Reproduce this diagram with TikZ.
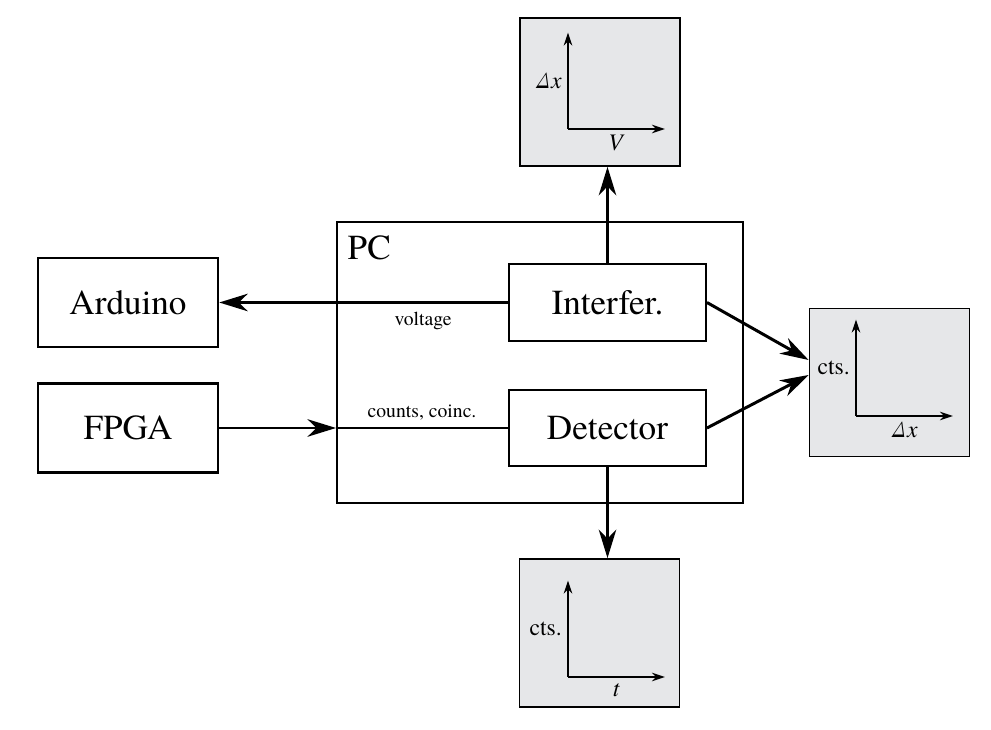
\documentclass[tikz,border=0pt]{standalone}
\usepackage{fontspec}
\setmainfont{texgyretermes}[Extension=.otf,
  UprightFont=*-regular, ItalicFont=*-italic,
  BoldFont=*-bold, BoldItalicFont=*-bolditalic]
\usetikzlibrary{arrows.meta}
\usetikzlibrary{positioning}
\definecolor{plotgray}{RGB}{230,231,233}
\tikzset{
  block/.style={draw, line width=1.4pt,
    minimum width=3.6cm, minimum height=1.78cm,
    font=\fontsize{20}{24}\selectfont},
  subblock/.style={block, minimum width=3.93cm, minimum height=1.53cm},
  plotbox/.style={draw, fill=plotgray, line width=1pt,
    minimum width=3.2cm, minimum height=2.96cm},
  axis/.style={-{Stealth[length=0.26cm,width=0.17cm,inset=0.08cm]}, line width=1.1pt},
  arrow/.style={-{Stealth[length=0.57cm,width=0.35cm,inset=0.18cm]}, line width=1.7pt},
  axislabel/.style={font=\fontsize{13.5}{16}\selectfont},
  sig/.style={font=\fontsize{11.2}{13}\selectfont}
}

\begin{document}
\begin{tikzpicture}
    \useasboundingbox (0,0) rectangle (19.82,14.6);

    \node [draw, line width=1.4pt, minimum width=8.11cm, minimum height=5.61cm]
          (pc) at (10.80,7.35) {};
    \node [below right=0.17cm and 0.11cm of pc.north west,
           font=\fontsize{20}{24}\selectfont] (pclabel) {PC};
    \node [subblock] (interf) at (12.15,8.55) {Interfer.};
    \node [subblock] (det) at (12.15,6.04) {Detector};
    \node [block] (arduino) at (2.56,8.55) {Arduino};
    \node [block] (fpga) at (2.56,6.04) {FPGA};

    \node [plotbox] (tplot) at (12.0,12.76) {};
    \node [plotbox] (rplot) at (17.79,6.95) {};
    \node [plotbox] (bplot) at (11.99,1.94) {};

    % axes of the three plots
    \foreach \p/\dx/\dy/\xl/\yl in {t/-0.64/-0.74/\textit{V}/\textit{Δx},
                                    r/-0.67/-0.67/\textit{Δx}/cts.,
                                    b/-0.63/-0.88/\textit{t}/cts.}{
      \coordinate (\p o) at ([xshift=\dx cm,yshift=\dy cm]\p plot.center);
      \coordinate (\p x) at ([xshift=1.94cm]\p o);
      \coordinate (\p y) at ([yshift=1.93cm]\p o);
      \draw [axis] (\p o) -- (\p x);
      \draw [axis] (\p o) -- (\p y);
      \node [axislabel, below] (\p xl) at ([xshift=0.97cm]\p o) {\xl};
      \node [axislabel, left] (\p yl) at ([yshift=0.96cm]\p o) {\yl};
    }

    \coordinate (pcin) at (fpga.east -| pc.west);
    \coordinate (rin1) at ([yshift=0.45cm]rplot.west);
    \coordinate (rin2) at ([yshift=0.15cm]rplot.west);

    \draw [arrow] (interf.west) -- node [sig, below, pos=0.294, yshift=-0.04cm]
          {voltage} (arduino.east);
    \draw [arrow] (fpga.east) -- (pcin);
    \draw [line width=1.7pt] (pcin) -- node [sig, above] {counts, coinc.} (det.west);
    \draw [arrow] (interf.north) -- (interf.north |- tplot.south);
    \draw [arrow] (det.south) -- (det.south |- bplot.north);
    \draw [arrow] (interf.east) -- (rin1);
    \draw [arrow] (det.east) -- (rin2);
\end{tikzpicture}
\end{document}
